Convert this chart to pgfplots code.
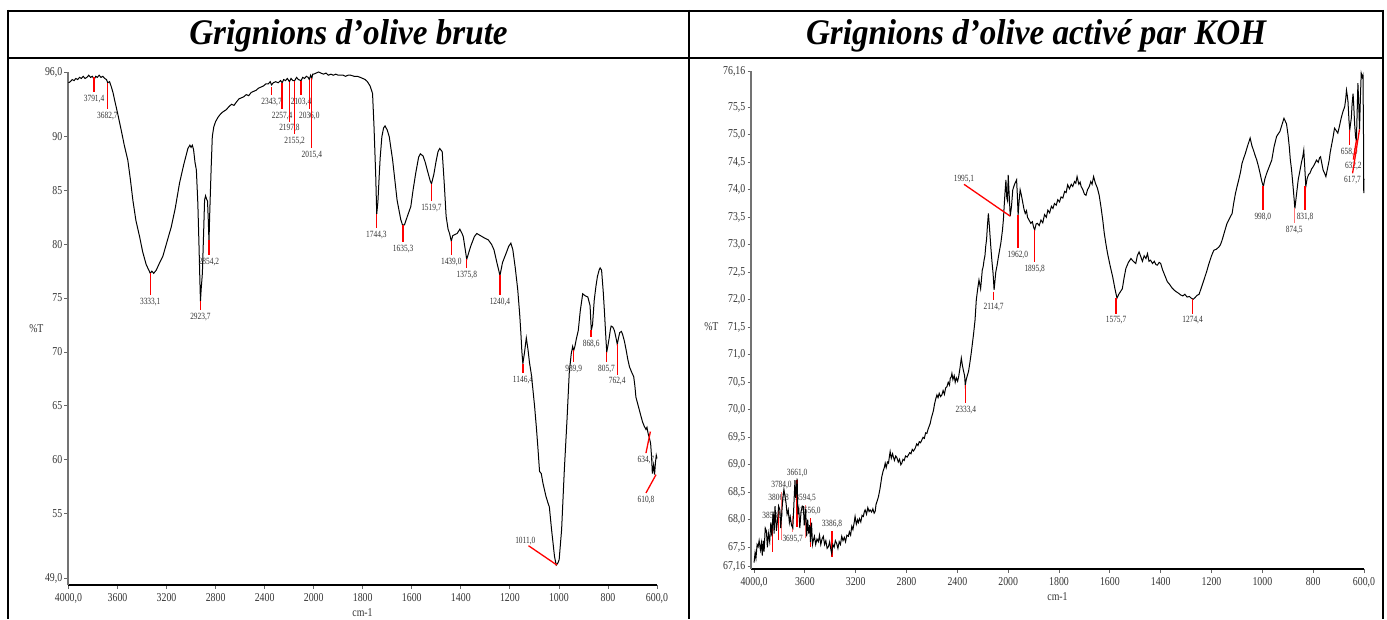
\documentclass[border=0pt]{standalone}
\usepackage{fontspec}
\usepackage{pgfplots}
\usepackage{pgfplotstable}
\pgfplotsset{compat=1.18}
\newfontfamily\tickfont{Liberation Serif}[FakeStretch=0.82]
\newfontfamily\lblfont{Liberation Serif}[FakeStretch=0.78]
\newfontfamily\titlefont{Liberation Serif}[FakeStretch=0.92]

% ---------------- data: raw olive pomace ----------------
\pgfplotstableread{
wn T
4000 95.0
3985 95.1
3970 95.3
3955 95.2
3940 95.4
3925 95.3
3910 95.5
3895 95.4
3880 95.6
3865 95.4
3850 95.5
3835 95.7
3820 95.5
3805 95.6
3791 95.3
3778 95.6
3765 95.5
3750 95.7
3735 95.5
3720 95.6
3705 95.4
3690 95.3
3680 95.0
3665 95.1
3650 94.6
3635 94.0
3624 93.4
3600 92.2
3585 91.4
3570 90.6
3545 89.2
3516 87.8
3495 86.0
3475 84.1
3450 82.2
3420 80.7
3395 79.3
3366 78.1
3345 77.6
3333 77.3
3320 77.5
3305 77.3
3284 77.6
3260 78.2
3230 78.9
3200 80.1
3162 81.6
3130 83.3
3094 85.7
3060 87.4
3026 88.9
3010 89.2
3000 89.0
2990 89.2
2980 88.8
2968 87.6
2957 86.9
2945 83.8
2936 80.1
2928 76.5
2923.7 74.7
2918 75.8
2908 77.3
2898 81.0
2890 84.1
2882 84.5
2874 84.2
2866 84.0
2860 82.3
2854 80.2
2849 82.5
2843 84.7
2836 87.2
2827 90.0
2815 90.9
2800 91.4
2780 91.8
2760 92.1
2740 92.3
2713 92.5
2690 92.8
2670 93.0
2650 92.9
2631 93.2
2610 93.5
2590 93.6
2570 93.7
2550 93.9
2530 93.8
2510 94.1
2490 94.2
2470 94.3
2450 94.5
2430 94.6
2410 94.7
2390 94.9
2370 94.9
2355 95.1
2343.7 94.8
2330 95.0
2310 95.1
2290 95.0
2270 95.2
2257 95.0
2245 95.3
2230 95.2
2215 95.4
2197.8 95.1
2185 95.4
2170 95.2
2155 95.2
2140 95.5
2125 95.3
2103.4 95.2
2090 95.5
2075 95.4
2060 95.6
2045 95.5
2036 95.3
2025 95.7
2015.4 95.4
2008 95.8
2000 95.8
1990 95.9
1980 96.0
1971 95.9
1960 95.8
1950 95.9
1940 95.7
1930 95.8
1920 95.7
1910 95.8
1900 95.7
1890 95.7
1880 95.7
1870 95.6
1860 95.7
1849 95.7
1835 95.6
1822 95.6
1810 95.5
1800 95.4
1790 95.3
1781 95.1
1770 94.7
1760 94.0
1754 90.9
1747 86.3
1743 82.8
1738 84.0
1733 86.3
1729 88.0
1722 90.0
1715 90.8
1709 91.0
1700 90.6
1692 90.0
1678 87.8
1660 84.1
1645 82.3
1638 81.8
1630 81.8
1618 82.6
1604 83.5
1595 85.0
1584 86.6
1572 88.1
1565 88.4
1554 88.2
1545 87.6
1537 86.9
1525 85.9
1519.7 85.6
1510 86.5
1501 87.7
1493 88.6
1486 88.9
1476 88.6
1470 86.5
1467 85.4
1460 82.6
1452 81.4
1446 81.0
1439 80.3
1433 80.8
1424 80.9
1415 81.0
1404 81.4
1395 81.0
1390 80.7
1382 79.5
1376 78.6
1368 79.2
1360 79.8
1345 80.7
1335 81.0
1320 80.8
1305 80.6
1288 80.4
1275 80.0
1265 79.5
1252 78.2
1240.4 77.1
1230 78.3
1213 79.3
1205 79.8
1196 80.1
1188 79.5
1178 77.8
1168 75.8
1160 73.5
1155 71.7
1151 70.0
1147 68.9
1140 70.0
1133 71.3
1126 70.2
1120 69.0
1113 68.0
1106 66.5
1099 64.9
1092 63.0
1086 61.2
1079 58.9
1072 58.7
1065 57.8
1053 56.6
1045 56.0
1039 55.6
1030 53.5
1018 51.0
1011 50.2
1004 50.4
999 50.7
989 53.5
978 59.0
967 63.7
958 68.0
950 69.8
944 70.5
940 70.1
935 70.5
929 71.2
921 72.0
913 73.8
903 75.4
892 75.2
882 75.1
873 74.3
868 72.0
863 72.5
856 74.8
849 76.1
843 77.0
836 77.6
832 77.8
826 77.6
819 75.5
814 73.6
808 71.1
805 70.0
800 70.6
795 71.3
790 72.1
787 72.4
780 72.3
774 72.0
768 71.4
762 70.7
757 71.3
752 71.8
745 71.9
740 71.6
733 71.0
726 70.2
719 69.3
712 68.6
703 68.1
695 67.7
690 66.8
686 65.8
679 65.2
672 64.6
665 64.0
659 63.5
652 63.1
645 62.8
641 63.0
636 62.4
631 62.0
626 61.5
622 60.2
619 58.7
614 59.5
610 58.6
606 59.8
603 60.4
600 60.1
}\brute

% ---------------- data: KOH activated ----------------
\pgfplotstableread{
wn T
4000 67.22
3992 67.40
3985 67.30
3976 67.55
3968 67.51
3960 67.62
3950 67.45
3942 67.58
3935 67.35
3928 67.62
3921 67.42
3912 67.85
3903 67.80
3895 67.50
3887 67.75
3877 67.60
3868 67.95
3860 67.70
3850 68.15
3842 67.75
3835 68.25
3824 67.80
3815 68.00
3806.8 68.25
3797 68.18
3790 67.85
3784 68.05
3775 68.35
3765 68.55
3758 68.45
3748 68.30
3740 68.10
3731 68.18
3722 67.95
3715 68.05
3705 67.90
3695 67.85
3688 68.20
3678 68.72
3672 68.40
3661 68.75
3655 68.10
3648 68.20
3640 67.85
3630 68.15
3620 68.25
3612 68.24
3605 67.90
3594 68.20
3586 67.70
3578 68.00
3570 67.75
3562 67.90
3556 67.60
3548 67.95
3540 67.55
3533 67.63
3525 67.70
3515 67.55
3505 67.65
3494 67.60
3485 67.72
3475 67.55
3465 67.65
3455 67.70
3445 67.55
3435 67.62
3425 67.48
3415 67.51
3405 67.60
3395 67.45
3389 67.39
3380 67.55
3370 67.50
3360 67.62
3350 67.57
3340 67.48
3330 67.60
3320 67.55
3310 67.70
3300 67.62
3290 67.68
3280 67.60
3270 67.72
3258 67.70
3250 67.78
3240 67.72
3231 67.88
3222 67.82
3212 67.95
3205 68.06
3195 67.92
3185 68.00
3179 67.95
3170 68.02
3160 67.96
3150 68.08
3140 68.06
3132 68.15
3126 68.18
3115 68.10
3105 68.22
3095 68.15
3087 68.18
3075 68.14
3065 68.20
3055 68.12
3047 68.15
3040 68.28
3030 68.35
3021 68.42
3010 68.55
3000 68.70
2995 68.78
2985 68.88
2975 68.95
2968 69.03
2960 68.95
2950 69.05
2942 69.03
2935 69.15
2929 69.24
2920 69.12
2910 69.20
2902 69.13
2895 69.08
2885 69.16
2876 69.13
2865 69.05
2855 69.10
2845 69.00
2837 69.03
2828 69.10
2818 69.08
2808 69.16
2795 69.14
2785 69.18
2775 69.22
2765 69.20
2755 69.28
2745 69.25
2732 69.30
2720 69.38
2710 69.35
2700 69.42
2690 69.40
2680 69.45
2670 69.50
2660 69.48
2650 69.58
2640 69.57
2630 69.65
2622 69.70
2614 69.75
2605 69.85
2596 69.92
2588 69.99
2580 70.10
2570 70.20
2561 70.27
2552 70.22
2543 70.30
2532 70.24
2522 70.27
2512 70.35
2502 70.28
2492 70.40
2482 70.42
2472 70.50
2462 70.45
2456 70.57
2448 70.60
2443 70.66
2435 70.55
2425 70.62
2417 70.50
2408 70.58
2398 70.52
2390 70.60
2380 70.75
2369 70.94
2360 70.80
2351 70.70
2343 70.62
2338 70.45
2330 70.55
2322 70.62
2312 70.70
2302 70.85
2291 71.03
2282 71.20
2272 71.39
2261 71.63
2251 72.00
2240 72.20
2230 72.36
2217 72.20
2204 72.54
2197 72.60
2190 72.72
2183 72.80
2177 72.97
2170 73.10
2164 73.33
2156 73.57
2147 73.30
2137 72.97
2128 72.70
2119 72.48
2111 72.18
2104 72.35
2098 72.50
2088 72.62
2077 72.78
2068 72.90
2058 73.03
2045 73.27
2038 73.45
2032 73.69
2025 73.95
2018 74.18
2011 73.85
2005 73.80
2000 74.27
1996 73.90
1992 73.52
1987 73.70
1982 74.00
1975 74.10
1967 74.18
1964 73.90
1961 73.54
1957 73.80
1953 74.00
1948 73.90
1944 73.80
1938 73.65
1933 73.57
1928 73.62
1924 73.50
1918 73.45
1911 73.39
1905 73.42
1900 73.32
1895.8 73.27
1890 73.38
1885 73.39
1878 73.35
1871 73.45
1864 73.40
1857 73.55
1850 73.50
1844 73.63
1837 73.58
1830 73.70
1824 73.66
1818 73.75
1811 73.72
1805 73.82
1798 73.78
1792 73.87
1785 73.85
1778 73.97
1772 73.95
1766 74.09
1759 74.02
1752 74.10
1746 74.06
1739 74.15
1734 74.12
1729 74.24
1722 74.10
1717 74.14
1713 74.06
1706 74.00
1700 73.92
1694 73.90
1688 74.00
1681 74.06
1675 74.15
1670 74.10
1664 74.24
1657 74.12
1649 74.03
1642 73.90
1635 73.69
1628 73.45
1622 73.21
1615 73.00
1609 72.84
1599 72.62
1589 72.42
1580 72.20
1572 72.03
1565 72.10
1558 72.15
1551 72.20
1544 72.40
1537 72.57
1527 72.68
1517 72.75
1508 72.70
1498 72.66
1492 72.80
1485 72.87
1478 72.78
1472 72.70
1465 72.80
1458 72.75
1452 72.84
1446 72.70
1440 72.72
1432 72.66
1425 72.70
1419 72.64
1413 72.63
1406 72.68
1400 72.66
1393 72.55
1387 72.48
1380 72.40
1374 72.33
1365 72.28
1356 72.22
1348 72.18
1340 72.15
1330 72.12
1322 72.09
1313 72.07
1305 72.10
1296 72.05
1287 72.06
1280 72.03
1272 72.01
1265 72.04
1257 72.08
1249 72.10
1240 72.22
1230 72.36
1220 72.50
1210 72.66
1200 72.80
1191 72.90
1181 72.92
1171 72.96
1165 73.00
1158 73.09
1148 73.25
1139 73.39
1129 73.48
1119 73.57
1113 73.75
1106 73.93
1100 74.05
1093 74.18
1086 74.32
1080 74.48
1073 74.58
1067 74.66
1058 74.80
1048 74.94
1041 74.80
1035 74.72
1028 74.62
1022 74.54
1015 74.42
1009 74.30
1002 74.15
996 74.06
990 74.20
983 74.30
973 74.42
963 74.54
954 74.78
944 74.97
937 75.02
931 75.06
923 75.18
915 75.30
910 75.25
905 75.20
899 75.00
894 74.78
890 74.55
885 74.36
878 74.00
872 73.66
866 73.90
859 74.18
852 74.35
846 74.50
841 74.60
837 74.72
833 74.40
829 74.06
824 74.20
818 74.28
813 74.30
806 74.38
800 74.42
793 74.48
787 74.54
780 74.50
775 74.58
771 74.60
766 74.48
761 74.36
755 74.30
750 74.24
743 74.40
737 74.54
733 74.68
729 74.78
722 74.95
716 75.12
710 75.08
703 75.03
697 75.15
690 75.30
683 75.42
676 75.51
672 75.65
669 75.81
666 75.72
663 75.60
659 75.25
656 75.09
653 75.20
650 75.30
647 75.55
643 75.75
640 75.50
637 75.20
633 74.95
630 74.90
627 75.40
624 75.94
621 75.60
617.7 75.10
614 75.70
611 76.12
607 76.05
604 76.09
602 75.00
601 73.94
600 74.20
}\koh

\tikzset{
  lbl/.style={font=\lblfont\fontsize{9.5}{9.5}\selectfont, text=black!80, inner sep=2.5pt},
  pk/.style={draw=red, line width=1.3pt},
  pkl/.style={draw=red!55, line width=1.3pt},
}
\pgfplotsset{
  ftir/.style={
    scale only axis,
    clip=false,
    x coord trafo/.code={\pgfmathparse{##1>=2000 ? (4000-##1)/2 : 3000-##1}},
    axis x line=bottom, axis y line=left,
    axis line style={-},
    x axis line style={black, line width=1.3pt},
    y axis line style={black!55, line width=1.1pt},
    tick align=outside,
    major tick length=3.5pt,
    every tick/.style={black!60, line width=0.8pt},
    tick label style={font=\tickfont\fontsize{12}{12}\selectfont, text=black!80, inner sep=2pt},
    xticklabel style={yshift=-3pt},
    xtick={4000,3600,3200,2800,2400,2000,1800,1600,1400,1200,1000,800,600},
    xticklabels={{4000,0},3600,3200,2800,2400,2000,1800,1600,1400,1200,1000,800,{600,0}},
    xmax=600,
    xlabel={cm-1},
    ylabel={\%T},
    every axis x label/.style={at={(rel axis cs:0.5,0)}, anchor=center, yshift=-28pt, font=\tickfont\fontsize{12}{12}\selectfont, text=black!80},
    every axis y label/.style={at={(rel axis cs:0,0.5)}, anchor=east, font=\tickfont\fontsize{12}{12}\selectfont, text=black!80},
  },
}

\begin{document}
\begin{tikzpicture}[x=1pt,y=1pt]
\useasboundingbox (0,0) rectangle (1387,619);
% table frame
\draw[line width=2pt] (8,608) -- (1383,608);
\draw[line width=2pt] (8,561) -- (1383,561);
\draw[line width=2pt] (8,609) -- (8,0);
\draw[line width=2pt] (689,609) -- (689,0);
\draw[line width=2pt] (1383,609) -- (1383,0);
\node[font=\titlefont\bfseries\itshape\fontsize{36}{36}\selectfont, anchor=base] at (348.5,574) {Grignions d’olive brute};
\node[font=\titlefont\bfseries\itshape\fontsize{36}{36}\selectfont, anchor=base] at (1036,574) {Grignions d’olive activé par KOH};

% ---------------- left panel ----------------
\begin{axis}[ftir,
  at={(68pt,34pt)}, anchor=south west,
  width=589pt, height=513pt,
  xmin=4004,
  ymin=48.35, ymax=96,
  ytick={49,55,60,65,70,75,80,85,90,96},
  yticklabels={{49,0},55,60,65,70,75,80,85,90,{96,0}},
  every axis y label/.append style={xshift=-21pt},
]
\addplot[black, line width=1pt] table[x=wn,y=T] {\brute};
\path[pk] (axis cs:3791.4,95.5) -- (axis cs:3791.4,94.1) node[below,lbl]{3791,4};
\path[pk] (axis cs:3682.7,94.95) -- (axis cs:3682.7,92.6) node[below,lbl]{3682,7};
\path[pk] (axis cs:3333.1,77.3) -- (axis cs:3333.1,75.3) node[below,lbl]{3333,1};
\path[pk] (axis cs:2923.7,74.7) -- (axis cs:2923.7,73.9) node[below,lbl]{2923,7};
\path[pk] (axis cs:2854.2,80.4) -- (axis cs:2854.2,79.0) node[below,lbl]{2854,2};
\path[pk] (axis cs:2343.7,94.6) -- (axis cs:2343.7,93.9) node[below,lbl]{2343,7};
\path[pk] (axis cs:2257.4,95.0) -- (axis cs:2257.4,92.6) node[below,lbl]{2257,4};
\path[pk] (axis cs:2197.8,95.1) -- (axis cs:2197.8,91.4) node[below,lbl]{2197,8};
\path[pk] (axis cs:2155.2,95.2) -- (axis cs:2155.2,90.2) node[below,lbl]{2155,2};
\path[pk] (axis cs:2103.4,95.2) -- (axis cs:2103.4,93.9) node[below,lbl]{2103,4};
\path[pk] (axis cs:2036.0,95.3) -- (axis cs:2036.0,92.6) node[below,lbl]{2036,0};
\path[pk] (axis cs:2015.4,95.4) -- (axis cs:2015.4,88.9) node[below,lbl]{2015,4};
\path[pk] (axis cs:1744.3,82.8) -- (axis cs:1744.3,81.5) node[below,lbl]{1744,3};
\path[pk] (axis cs:1635.3,81.8) -- (axis cs:1635.3,80.2) node[below,lbl]{1635,3};
\path[pk] (axis cs:1519.7,85.6) -- (axis cs:1519.7,84.0) node[below,lbl]{1519,7};
\path[pk] (axis cs:1439.0,80.3) -- (axis cs:1439.0,79.0) node[below,lbl]{1439,0};
\path[pk] (axis cs:1375.8,78.6) -- (axis cs:1375.8,77.8) node[below,lbl]{1375,8};
\path[pk] (axis cs:1240.4,77.1) -- (axis cs:1240.4,75.3) node[below,lbl]{1240,4};
\path[pk] (axis cs:1146.4,68.9) -- (axis cs:1146.4,68.0) node[below,lbl]{1146,4};
\path[pk] (axis cs:939.9,70.2) -- (axis cs:939.9,69.1) node[below,lbl]{939,9};
\path[pk] (axis cs:868.6,72.0) -- (axis cs:868.6,71.4) node[below,lbl]{868,6};
\path[pk] (axis cs:805.7,70.0) -- (axis cs:805.7,69.1) node[below,lbl]{805,7};
\path[pk] (axis cs:762.4,70.7) -- (axis cs:762.4,67.9) node[below,lbl]{762,4};
\path[pk] (axis cs:627,62.6) -- (axis cs:645,60.6) node[below,lbl]{634,7};
\path[pk] (axis cs:604,58.6) -- (axis cs:645,56.9) node[below,lbl]{610,8};
\path[pk] (axis cs:1008,50.2) -- (axis cs:1124,52.0) node[above left,lbl, xshift=10pt, yshift=-2pt]{1011,0};
\end{axis}

% ---------------- right panel ----------------
\begin{axis}[ftir,
  at={(751pt,50pt)}, anchor=south west,
  width=613pt, height=498pt,
  xmin=4024,
  ymin=67.105, ymax=76.16,
  ytick={67.16,67.5,68,68.5,69,69.5,70,70.5,71,71.5,72,72.5,73,73.5,74,74.5,75,75.5,76.16},
  yticklabels={{67,16},{67,5},{68,0},{68,5},{69,0},{69,5},{70,0},{70,5},{71,0},{71,5},{72,0},{72,5},{73,0},{73,5},{74,0},{74,5},{75,0},{75,5},{76,16}},
  every axis y label/.append style={xshift=-29pt, yshift=-7pt},
]
\path[pk] (axis cs:3853.9,67.42) -- (axis cs:3853.9,67.94) node[above,lbl]{3853,9};
\path[pk] (axis cs:3806.8,67.63) -- (axis cs:3806.8,68.27) node[above,lbl]{3806,8};
\path[pkl] (axis cs:3784.0,67.63) -- (axis cs:3784.0,68.50) node[above,lbl]{3784,0};
\path[pk] (axis cs:3661.0,67.87) -- (axis cs:3661.0,68.72) node[above,lbl]{3661,0};
\path[pkl] (axis cs:3695.7,68.06) -- (axis cs:3695.7,67.78) node[below,lbl]{3695,7};
\path[pkl] (axis cs:3594.5,67.67) -- (axis cs:3594.5,68.27) node[above,lbl]{3594,5};
\path[pk] (axis cs:3556.0,67.51) -- (axis cs:3556.0,68.03) node[above,lbl]{3556,0};
\path[pk] (axis cs:3386.8,67.33) -- (axis cs:3386.8,67.80) node[above,lbl]{3386,8};
\addplot[black, line width=1pt] table[x=wn,y=T] {\koh};
\path[pk] (axis cs:2333.4,70.45) -- (axis cs:2333.4,70.12) node[below,lbl]{2333,4};
\path[pk] (axis cs:2114.7,72.15) -- (axis cs:2114.7,72.0) node[below,lbl]{2114,7};
\path[pk] (axis cs:1962.0,73.54) -- (axis cs:1962.0,72.94) node[below,lbl]{1962,0};
\path[pk] (axis cs:1895.8,73.27) -- (axis cs:1895.8,72.69) node[below,lbl]{1895,8};
\path[pk] (axis cs:1992,73.52) -- (axis cs:2348,74.1) node[above,lbl,yshift=-2pt]{1995,1};
\path[pk] (axis cs:1575.7,72.03) -- (axis cs:1575.7,71.75) node[below,lbl]{1575,7};
\path[pk] (axis cs:1274.4,72.01) -- (axis cs:1274.4,71.75) node[below,lbl]{1274,4};
\path[pk] (axis cs:998.0,74.06) -- (axis cs:998.0,73.63) node[below,lbl]{998,0};
\path[pkl] (axis cs:874.5,73.66) -- (axis cs:874.5,73.39) node[below,lbl]{874,5};
\path[pk] (axis cs:831.8,74.06) -- (axis cs:831.8,73.63) node[below,lbl]{831,8};
\path[pk] (axis cs:658.0,75.09) -- (axis cs:658.0,74.81) node[below,lbl]{658,0};
\path[pk] (axis cs:630,74.9) -- (axis cs:642,74.55) node[below,lbl]{632,2};
\path[pk] (axis cs:617.7,75.1) -- (axis cs:645,74.3) node[below,lbl]{617,7};
\end{axis}
\end{tikzpicture}
\end{document}
